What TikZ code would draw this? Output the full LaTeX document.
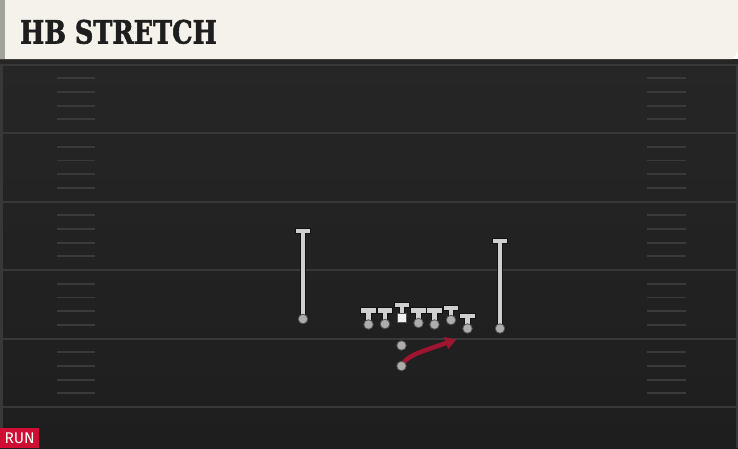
\documentclass[tikz,border=0pt]{standalone}
\usepackage{fontspec}
\usetikzlibrary{arrows.meta}
\newfontfamily\titlefont{DejaVu Serif}[BoldFeatures={FakeBold=2}]
\newfontfamily\tagfont{Fira Sans}
\definecolor{cream}{HTML}{F5F2EB}
\definecolor{headedge}{HTML}{A3A39E}
\definecolor{titleink}{HTML}{1E1E1E}
\definecolor{fieldtop}{HTML}{262626}
\definecolor{fieldbot}{HTML}{1E1E1E}
\definecolor{yardgray}{HTML}{383838}
\definecolor{hashgray}{HTML}{3A3A3A}
\definecolor{pfill}{HTML}{ADADAD}
\definecolor{pedge}{HTML}{555555}
\definecolor{cfill}{HTML}{F2F2F2}
\definecolor{rgray}{HTML}{CFCFCF}
\definecolor{redge}{HTML}{121212}
\definecolor{runred}{HTML}{9E1530}
\definecolor{tagred}{HTML}{CE0E32}
\pgfdeclarelayer{field}
\pgfdeclarelayer{routes}
\pgfsetlayers{field,routes,main}

\begin{document}
\begin{tikzpicture}[x=1pt,y=-1pt,
    player/.style={circle,draw=pedge,fill=pfill,line width=0.8pt,inner sep=0pt,minimum size=9.5pt},
    snapper/.style={rectangle,draw=pedge,fill=cfill,line width=0.8pt,inner sep=0pt,minimum size=9pt},
    stem/.style={draw=rgray,line width=4.3pt,line cap=rect,preaction={draw=redge,line width=6.1pt,line cap=rect}},
    runpath/.style={draw=runred,line width=4.5pt,-{Triangle[length=11pt,width=12pt]}},
    yardline/.style={draw=yardgray,line width=2pt},
    hash/.style={draw=hashgray,line width=1.8pt}]
\useasboundingbox (0,0) rectangle (738,448);

\begin{pgfonlayer}{field}
\shade[top color=fieldtop,bottom color=fieldbot] (0,59) rectangle (738,448);
\fill[black!85] (0,59) rectangle (738,64);
\fill[yardgray] (0,64) rectangle (2.5,448);
\fill[yardgray] (735.5,64) rectangle (738,448);
\foreach \y in {64.5,133,201.5,270,338.5,407} {
    \draw[yardline] (2.5,\y) -- (735.5,\y);
}
\foreach \y in {64.5,133,201.5,270,338.5} {
    \foreach \k in {1,...,4} {
        \draw[hash] (57,\y+13.7*\k) -- (95,\y+13.7*\k);
        \draw[hash] (647,\y+13.7*\k) -- (686,\y+13.7*\k);
    }
}
% header band
\fill[cream] (0,0) -- (738,0) -- (738,52) -- (732,59) -- (0,59) -- cycle;
\fill[headedge] (0,0) rectangle (5,59);
\end{pgfonlayer}

\node[anchor=base west,inner sep=0pt,text=titleink,xscale=0.8,
      font=\titlefont\bfseries\fontsize{32}{32}\selectfont] (title) at (20,43.5) {HB STRETCH};

% offense
\foreach \n/\x/\yb/\yt in {lwr/303/319/231, lt/368.5/324.5/310.5, lg/385/324/310.5,
        rg/418.5/323/310.5, rt/434.5/324.5/310.5, te/451/320/308, ywr/467.5/328.5/316,
        rwr/500/328.5/241} {
    \node[player] (\n) at (\x,\yb) {};
    \coordinate (\n-end) at (\x,\yt);
}
\node[snapper] (c) at (402,318) {};
\coordinate (c-end) at (402,305);
\node[player] (qb) at (401.5,345.5) {};
\node[player] (hb) at (401.5,366) {};
\coordinate (hb-end) at (456.5,339.5);

\begin{pgfonlayer}{routes}
\foreach \n in {lwr,lt,lg,c,rg,rt,te,ywr,rwr} {
    \draw[stem] (\n.center) -- (\n-end) (\n-end) ++(-5.3,0) -- ++(10.6,0);
}
\draw[runpath] (hb.center) .. controls (407,356) and (414,354) .. (hb-end);
\end{pgfonlayer}

\node[anchor=south west,fill=tagred,text=white,inner sep=0pt,minimum width=39pt,minimum height=20pt,
      font=\tagfont\fontsize{15.5}{15.5}\selectfont] (tag) at (0,448) {RUN};
\end{tikzpicture}
\end{document}
